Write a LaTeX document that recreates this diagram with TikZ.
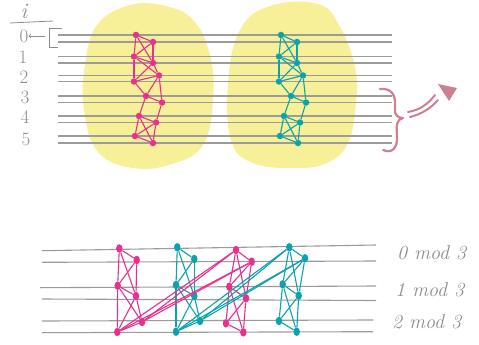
\documentclass[tikz,border=0pt]{standalone}
\usetikzlibrary{shapes.geometric}
\definecolor{pinkc}{RGB}{232,48,140}
\definecolor{tealc}{RGB}{10,162,172}
\definecolor{blobc}{RGB}{248,240,152}
\definecolor{linegray}{RGB}{155,155,155}
\definecolor{labelgray}{RGB}{140,140,140}
\definecolor{bracec}{RGB}{205,128,145}
\tikzset{
  pn/.style={circle,fill=pinkc,inner sep=0pt,minimum size=6.5pt},
  tn/.style={circle,fill=tealc,inner sep=0pt,minimum size=6.5pt},
  bpn/.style={ellipse,fill=pinkc,inner sep=0pt,minimum width=6.5pt,minimum height=8.5pt},
  btn/.style={ellipse,fill=tealc,inner sep=0pt,minimum width=6.5pt,minimum height=8.5pt},
  pe/.style={draw=pinkc,line width=1.1pt},
  te/.style={draw=tealc,line width=1.1pt},
  track/.style={draw=linegray,line width=1.1pt},
  numlbl/.style={text=labelgray,font=\fontsize{19}{19}\selectfont,inner sep=0pt},
  modlbl/.style={text=labelgray,font=\fontsize{20}{20}\selectfont\itshape,inner sep=0pt,anchor=west},
  hand/.style={draw=labelgray,line width=0.8pt},
  bracestroke/.style={draw=bracec,line width=2.2pt,line cap=round,line join=round}
}
\begin{document}
\begin{tikzpicture}[x=1pt,y=-1pt]
\useasboundingbox (0,0) rectangle (479,345);
% yellow blobs
\fill[blobc] plot[smooth cycle,tension=0.7] coordinates {(130,5) (165,6) (193,20) (210,55) (213,100) (203,145) (172,164) (133,168) (98,152) (84,110) (85,65) (97,25)};
\fill[blobc] plot[smooth cycle,tension=0.7] coordinates {(270,6) (318,4) (340,27) (355,67) (356,103) (348,143) (327,163) (295,168) (253,163) (231,140) (228,83) (240,30)};
% top tracks
\foreach \y in {35,42,56.5,63,75.5,81.5,96,102.5,116,122.5,136,143}
  \draw[track] (58,\y) -- (392,\y);
% labels
\node[text=labelgray,font=\fontsize{22}{22}\selectfont\itshape,inner sep=0pt] (ilbl) at (24,11) {i};
\draw[hand] (10,23) -- (53,21);
\node[numlbl] (n0) at (24,36) {0};
\node[numlbl] (n1) at (23,57) {1};
\node[numlbl] (n2) at (24,77) {2};
\node[numlbl] (n3) at (25,97) {3};
\node[numlbl] (n4) at (25,117) {4};
\node[numlbl] (n5) at (26,139) {5};
\coordinate (brk) at (45,36);
\draw[hand,->] (brk) -- (n0.east);
\draw[hand] (62,28) -- (49,28) -- (49,47) -- (58,47);
% top pink graph
\node[pn] (pa) at (136,35) {};
\node[pn] (pb) at (153,42) {};
\node[pn] (pc) at (134,56.5) {};
\node[pn] (pd) at (153,63) {};
\node[pn] (pe) at (134,81.5) {};
\node[pn] (pf) at (159,75.5) {};
\node[pn] (pg) at (146,96) {};
\node[pn] (ph) at (162,102.5) {};
\node[pn] (pi) at (139,116) {};
\node[pn] (pj) at (156,122.5) {};
\node[pn] (pk) at (135,136) {};
\node[pn] (pl) at (153,143) {};
\foreach \a/\b in {pa/pb,pa/pc,pa/pd,pb/pc,pb/pd,pc/pd,pc/pe,pc/pf,pd/pe,pd/pf,pe/pf,pe/pg,pf/pg,pf/ph,pg/ph,pg/pi,ph/pj,pi/pj,pi/pk,pi/pl,pj/pk,pj/pl,pk/pl}
  \draw[pe] (\a) -- (\b);
% top teal graph
\node[tn] (ta) at (281,35) {};
\node[tn] (tb) at (297,42) {};
\node[tn] (tc) at (279,56.5) {};
\node[tn] (td) at (297,63) {};
\node[tn] (te) at (279,81.5) {};
\node[tn] (tf) at (303,75.5) {};
\node[tn] (tg) at (291,96) {};
\node[tn] (th) at (306,102.5) {};
\node[tn] (ti) at (284,116) {};
\node[tn] (tj) at (300,122.5) {};
\node[tn] (tk) at (280,136) {};
\node[tn] (tl) at (298,143) {};
\foreach \a/\b in {ta/tb,ta/tc,ta/td,tb/tc,tb/td,tc/td,tc/te,tc/tf,td/te,td/tf,te/tf,te/tg,tf/tg,tf/th,tg/th,tg/ti,th/tj,ti/tj,ti/tk,ti/tl,tj/tk,tj/tl,tk/tl}
  \draw[te] (\a) -- (\b);
% brace and arrow
\draw[bracestroke] (380,89) .. controls (392,88) and (396,95) .. (395,108) .. controls (394,115) and (398,118) .. (403,118) .. controls (397,119) and (396,125) .. (397,135) .. controls (398,148) and (392,154) .. (383,150);
\draw[bracestroke,line width=2pt] (408,112) .. controls (420,110) and (428,104) .. (435,95);
\draw[bracestroke,line width=2pt] (410,117) .. controls (422,114) and (431,108) .. (438,100);
\fill[bracec] (438,84) -- (457,88) -- (449,101) -- cycle;
% bottom tracks
\draw[track] (42,250.7) -- (376,245);
\draw[track] (42,262.3) -- (376,261);
\draw[track] (40,287.7) -- (376,286);
\draw[track] (42,299) -- (376,300.5);
\draw[track] (42,321) -- (373,320);
\draw[track] (42,332.7) -- (373,331.7);
% bottom labels
\node[modlbl] (m0) at (397,253) {0 mod 3};
\node[modlbl] (m1) at (395,290) {1 mod 3};
\node[modlbl] (m2) at (392,322) {2 mod 3};
% bottom pink group 1
\node[bpn] (p1) at (119.3,248.5) {};
\node[bpn] (p2) at (136.7,260) {};
\node[bpn] (p3) at (117.7,285.7) {};
\node[bpn] (p4) at (136,296) {};
\node[bpn] (p5) at (142,322) {};
\node[bpn] (p6) at (117.3,332) {};
% bottom teal group 1
\node[btn] (t1) at (177.3,247.3) {};
\node[btn] (t2) at (194.3,259) {};
\node[btn] (t3) at (176,285) {};
\node[btn] (t4) at (194.3,296) {};
\node[btn] (t5) at (200,321) {};
\node[btn] (t6) at (176,331.7) {};
% bottom pink group 2
\node[bpn] (q1) at (236,250) {};
\node[bpn] (q2) at (251.7,261.7) {};
\node[bpn] (q3) at (229.3,286.7) {};
\node[bpn] (q4) at (246,298.3) {};
\node[bpn] (q5) at (226,323.3) {};
\node[bpn] (q6) at (243.3,332.3) {};
% bottom teal group 2
\node[btn] (s1) at (289.3,247.3) {};
\node[btn] (s2) at (305,258.3) {};
\node[btn] (s3) at (282.7,284.3) {};
\node[btn] (s4) at (298.7,295.7) {};
\node[btn] (s5) at (279,321) {};
\node[btn] (s6) at (296.7,331.7) {};
% bottom edges
\foreach \g in {p,q}{
  \foreach \a/\b in {1/2,1/3,1/4,2/3,2/4,3/4,3/5,3/6,4/5,4/6,5/6}
    \draw[pe] (\g\a) -- (\g\b);
}
\foreach \g in {t,s}{
  \foreach \a/\b in {1/2,1/3,1/4,2/3,2/4,3/4,3/5,3/6,4/5,4/6,5/6}
    \draw[te] (\g\a) -- (\g\b);
}
\foreach \a/\b in {p5/q1,p5/q2,p6/q1,p6/q2}
  \draw[pe] (\a) -- (\b);
\foreach \a/\b in {t5/s1,t5/s2,t6/s1,t6/s2}
  \draw[te] (\a) -- (\b);
\end{tikzpicture}
\end{document}
